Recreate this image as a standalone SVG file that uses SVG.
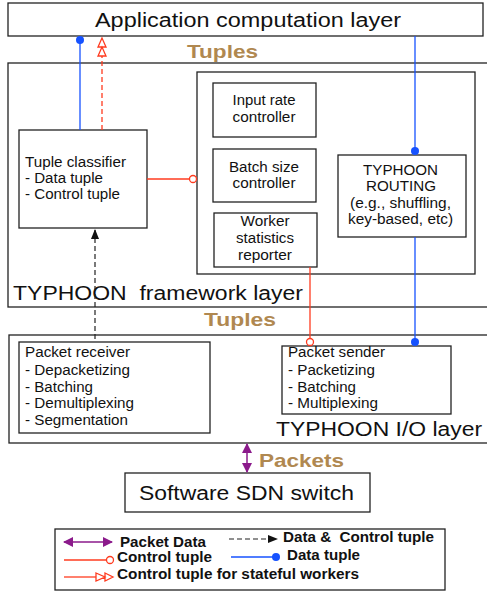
<svg xmlns="http://www.w3.org/2000/svg" width="487" height="591" viewBox="0 0 487 591">
<style>
.box{fill:#fff;stroke:#222;stroke-width:1.3}
.t{font-family:"Liberation Sans",Arial,sans-serif;fill:#111}
.n{font-size:14px}
.big{font-size:20px}
.lay{font-size:20px}
.br{font-family:"Liberation Sans",Arial,sans-serif;font-weight:bold;fill:#b08850;font-size:19px}
.lg{font-family:"Liberation Sans",Arial,sans-serif;font-weight:bold;font-size:14px;fill:#111}
.red{stroke:#ff3b1f;stroke-width:1.3;fill:none}
.blue{stroke:#1652ff;stroke-width:1.3;fill:none}
</style>
<defs>
<marker id="ah" markerWidth="10" markerHeight="10" refX="9" refY="5" orient="auto" markerUnits="userSpaceOnUse"><path d="M0,1 L10,5 L0,9 Z" fill="#111"/></marker>
<marker id="pa" markerWidth="10" markerHeight="10" refX="9" refY="5" orient="auto-start-reverse" markerUnits="userSpaceOnUse"><path d="M0,0 L10,5 L0,10 Z" fill="#8b1a8b"/></marker>
</defs>
<rect width="487" height="591" fill="#fff"/>

<g id="app"><rect class="box" x="8" y="3" width="475" height="33"/><text class="t big" x="248" y="26.5" text-anchor="middle" textLength="306" lengthAdjust="spacingAndGlyphs">Application computation layer</text></g>
<text class="br" x="222.5" y="58" text-anchor="middle" textLength="71" lengthAdjust="spacingAndGlyphs">Tuples</text>

<g id="framework"><rect class="box" x="8" y="63" width="490" height="244"/><text class="t lay" x="13" y="299.5" xml:space="preserve" textLength="290" lengthAdjust="spacingAndGlyphs">TYPHOON  framework layer</text></g>
<g id="inner"><rect class="box" x="197" y="72" width="278" height="202"/></g>
<g id="input-rate"><rect class="box" x="213" y="83" width="103" height="54"/><text class="t n" x="264" y="105" text-anchor="middle" textLength="63" lengthAdjust="spacingAndGlyphs">Input rate</text><text class="t n" x="264" y="122" text-anchor="middle" textLength="63" lengthAdjust="spacingAndGlyphs">controller</text></g>
<g id="batch-size"><rect class="box" x="213" y="149" width="103" height="53"/><text class="t n" x="264" y="172" text-anchor="middle" textLength="70" lengthAdjust="spacingAndGlyphs">Batch size</text><text class="t n" x="264" y="188" text-anchor="middle" textLength="63" lengthAdjust="spacingAndGlyphs">controller</text></g>
<g id="worker-stats"><rect class="box" x="214" y="213" width="103" height="54"/><text class="t n" x="265" y="226" text-anchor="middle" textLength="49" lengthAdjust="spacingAndGlyphs">Worker</text><text class="t n" x="265" y="243" text-anchor="middle" textLength="58" lengthAdjust="spacingAndGlyphs">statistics</text><text class="t n" x="265" y="260" text-anchor="middle" textLength="54" lengthAdjust="spacingAndGlyphs">reporter</text></g>
<g id="routing"><rect class="box" x="338" y="155" width="128" height="82"/><text class="t n" x="400.5" y="175" text-anchor="middle" textLength="75" lengthAdjust="spacingAndGlyphs">TYPHOON</text><text class="t n" x="401" y="191" text-anchor="middle" textLength="70" lengthAdjust="spacingAndGlyphs">ROUTING</text><text class="t n" x="400.5" y="208" text-anchor="middle" textLength="101" lengthAdjust="spacingAndGlyphs">(e.g., shuffling,</text><text class="t n" x="400.5" y="224" text-anchor="middle" textLength="105" lengthAdjust="spacingAndGlyphs">key-based, etc)</text></g>
<g id="classifier"><rect class="box" x="19" y="130" width="128" height="98"/><text class="t n" x="25" y="167" textLength="101" lengthAdjust="spacingAndGlyphs">Tuple classifier</text><text class="t n" x="25" y="183" textLength="78" lengthAdjust="spacingAndGlyphs">- Data tuple</text><text class="t n" x="25" y="199" textLength="95" lengthAdjust="spacingAndGlyphs">- Control tuple</text></g>

<text class="br" x="240" y="326" text-anchor="middle" textLength="72" lengthAdjust="spacingAndGlyphs">Tuples</text>

<g id="io"><rect class="box" x="9" y="335" width="490" height="108"/><text class="t lay" x="276" y="436" textLength="206" lengthAdjust="spacingAndGlyphs">TYPHOON I/O layer</text></g>
<g id="receiver"><rect class="box" x="19" y="342" width="191" height="91"/><text class="t n" x="25" y="357" textLength="105" lengthAdjust="spacingAndGlyphs">Packet receiver</text><text class="t n" x="25" y="375" textLength="105" lengthAdjust="spacingAndGlyphs">- Depacketizing</text><text class="t n" x="25" y="392" textLength="68" lengthAdjust="spacingAndGlyphs">- Batching</text><text class="t n" x="25" y="408" textLength="109" lengthAdjust="spacingAndGlyphs">- Demultiplexing</text><text class="t n" x="25" y="425" textLength="103" lengthAdjust="spacingAndGlyphs">- Segmentation</text></g>
<g id="sender"><rect class="box" x="282" y="346" width="169" height="68"/><text class="t n" x="288" y="357" textLength="97" lengthAdjust="spacingAndGlyphs">Packet sender</text><text class="t n" x="288" y="375" textLength="87" lengthAdjust="spacingAndGlyphs">- Packetizing</text><text class="t n" x="288" y="392" textLength="68" lengthAdjust="spacingAndGlyphs">- Batching</text><text class="t n" x="288" y="408" textLength="90" lengthAdjust="spacingAndGlyphs">- Multiplexing</text></g>

<text class="br" x="259" y="467" textLength="85" lengthAdjust="spacingAndGlyphs">Packets</text>
<g id="switch"><rect class="box" x="125" y="473" width="245" height="39"/><text class="t big" x="246.5" y="500" text-anchor="middle" textLength="215" lengthAdjust="spacingAndGlyphs">Software SDN switch</text></g>

<g id="connectors">
<line class="blue" x1="80" y1="130" x2="80" y2="40"/><circle cx="80" cy="40" r="4" fill="#1652ff"/>
<line class="red" x1="102" y1="130" x2="102" y2="56" stroke-dasharray="5,3"/>
<path class="red" d="M102,38 L98,47 L106,47 Z M102,47 L98,56 L106,56 Z" fill="#fff"/>
<line class="blue" x1="415" y1="36" x2="415" y2="151"/><circle cx="415" cy="151" r="4" fill="#1652ff"/>
<line class="blue" x1="415" y1="237" x2="415" y2="342"/><circle cx="415" cy="342" r="4" fill="#1652ff"/>
<line class="red" x1="147" y1="179" x2="189.5" y2="179"/><circle cx="193" cy="179" r="3.5" fill="#fff" stroke="#ff3b1f" stroke-width="1.3"/>
<line class="red" x1="310" y1="267" x2="310" y2="338.5"/><circle cx="310" cy="342" r="3.5" fill="#fff" stroke="#ff3b1f" stroke-width="1.3"/>
<line x1="95" y1="339" x2="95" y2="230" stroke="#222" stroke-width="1.2" stroke-dasharray="5,3" marker-end="url(#ah)"/>
<line x1="247" y1="444" x2="247" y2="472" stroke="#8b1a8b" stroke-width="1.5" marker-start="url(#pa)" marker-end="url(#pa)"/>
</g>

<g id="legend">
<rect class="box" x="55" y="529" width="390" height="61"/>
<line x1="64" y1="542" x2="112" y2="542" stroke="#8b1a8b" stroke-width="1.5" marker-start="url(#pa)" marker-end="url(#pa)"/>
<text class="lg" x="120" y="547" textLength="86" lengthAdjust="spacingAndGlyphs">Packet Data</text>
<line x1="229" y1="539" x2="277" y2="539" stroke="#222" stroke-width="1.2" stroke-dasharray="5,3" marker-end="url(#ah)"/>
<text class="lg" x="283" y="542" xml:space="preserve" textLength="151" lengthAdjust="spacingAndGlyphs">Data &amp;  Control tuple</text>
<line class="red" x1="64" y1="560" x2="106.5" y2="560"/><circle cx="110" cy="560" r="3.5" fill="#fff" stroke="#ff3b1f" stroke-width="1.3"/>
<text class="lg" x="117" y="562" textLength="95" lengthAdjust="spacingAndGlyphs">Control tuple</text>
<line class="blue" x1="231" y1="557" x2="276" y2="557"/><circle cx="276" cy="557" r="4" fill="#1652ff"/>
<text class="lg" x="287" y="560" textLength="73" lengthAdjust="spacingAndGlyphs">Data tuple</text>
<line class="red" x1="64" y1="577" x2="96" y2="577"/>
<path class="red" d="M96,573 L105,577 L96,581 Z M105,573 L113,577 L105,581 Z" fill="#fff"/>
<text class="lg" x="117" y="579" textLength="242" lengthAdjust="spacingAndGlyphs">Control tuple for stateful workers</text>
</g>
</svg>
